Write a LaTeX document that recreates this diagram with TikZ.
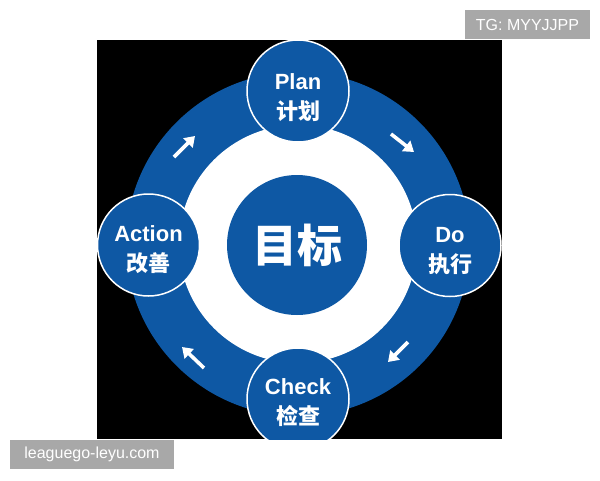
\documentclass[tikz,border=0pt]{standalone}
\usepackage{fontspec}
\setmainfont{Liberation Sans}
\newfontfamily\cjk{Noto Sans CJK SC}
\usetikzlibrary{arrows.meta}
\definecolor{pdcablue}{RGB}{14,88,164}
\definecolor{wmgray}{RGB}{168,168,168}
\tikzset{
  stagecirc/.style={circle, minimum size=102pt, inner sep=0pt, fill=pdcablue, draw=white, line width=1.5pt},
  stagetext/.style={text=white, align=center, font=\bfseries\fontsize{22}{30}\selectfont},
  flowarrow/.style={draw=white, line width=3.6pt, -{Triangle[length=10pt,width=13pt]}},
  wmbox/.style={fill=wmgray, text=white, inner sep=0pt, font=\fontsize{16}{16}\selectfont}
}
\begin{document}
\begin{tikzpicture}[x=1pt,y=-1pt]
\useasboundingbox (0,0) rectangle (600,480);
\fill[white] (0,0) rectangle (600,480);
\fill[black] (97,40) rectangle (502,439);
\begin{scope}
\clip (97,40) rectangle (502,439);
\coordinate (c) at (298,244);
\fill[pdcablue] (c) circle[radius=172pt];
\fill[white] (c) circle[radius=119pt];
\node[circle, minimum size=140pt, inner sep=0pt, fill=pdcablue, text=white,
      font=\cjk\bfseries\fontsize{45}{45}\selectfont] (goal) at (297,245) {目标};
% arrows
\coordinate (a1s) at (391,134); \coordinate (a1e) at (414,152);
\coordinate (a2s) at (408,342); \coordinate (a2e) at (388,362);
\coordinate (a3s) at (204,368); \coordinate (a3e) at (182,347);
\coordinate (a4s) at (174,157); \coordinate (a4e) at (195,136);
\draw[flowarrow] (a1s) -- (a1e);
\draw[flowarrow] (a2s) -- (a2e);
\draw[flowarrow] (a3s) -- (a3e);
\draw[flowarrow] (a4s) -- (a4e);
% stage circles
\node[stagecirc] (plan) at (298,91) {};
\node[stagecirc] (do) at (450,245.5) {};
\node[stagecirc] (check) at (298,399) {};
\node[stagecirc] (act) at (148.5,245) {};
\node[stagetext] (plantxt) at ([yshift=-7pt]plan.center) {Plan\\{\cjk\bfseries 计划}};
\node[stagetext] (dotxt) at ([yshift=-5.5pt]do.center) {Do\\{\cjk\bfseries 执行}};
\node[stagetext] (checktxt) at ([yshift=-4pt]check.center) {Check\\{\cjk\bfseries 检查}};
\node[stagetext] (acttxt) at ([yshift=-4.5pt]act.center) {Action\\{\cjk\bfseries 改善}};
\end{scope}
% watermarks
\fill[wmgray] (465,10) rectangle (590,39);
\node[text=white, font=\fontsize{16}{16}\selectfont] (wm1) at (527.5,24.5) {TG: MYYJJPP};
\fill[wmgray] (10,440) rectangle (174,469);
\node[text=white, font=\fontsize{16}{16}\selectfont] (wm2) at (92,454.5) {leaguego-leyu.com};
\end{tikzpicture}
\end{document}
